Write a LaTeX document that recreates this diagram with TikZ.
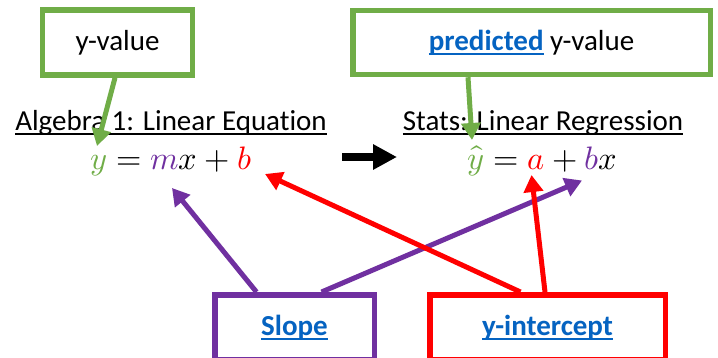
\documentclass[tikz,border=0pt]{standalone}
\usepackage{fontspec}
\setmainfont{Carlito}[Ligatures=NoCommon]
\usepackage{unicode-math}
\setmathfont{Latin Modern Math}[Scale=1.12]
\usetikzlibrary{arrows.meta,calc}
\definecolor{OffGreen}{RGB}{112,173,71}
\definecolor{OffPurple}{RGB}{112,48,160}
\definecolor{OffRed}{RGB}{255,0,0}
\definecolor{LinkBlue}{RGB}{5,99,193}
\newcommand{\undl}[1]{\leavevmode\setbox0\hbox{#1}\rlap{\rule[-4.5pt]{\wd0}{2pt}}\box0}
\newcommand{\hlink}[1]{\textcolor{LinkBlue}{\bfseries\undl{#1}}}
\tikzset{
  bigtext/.style={font=\fontsize{29}{35}\selectfont},
  labelbox/.style={rectangle, draw, fill=white, line width=5.5pt, inner sep=0pt, bigtext},
  gbox/.style={labelbox, draw=OffGreen},
  pbox/.style={labelbox, draw=OffPurple},
  rbox/.style={labelbox, draw=OffRed},
  title/.style={inner sep=0pt, bigtext},
  eqn/.style={inner sep=0pt, bigtext},
  pointer/.style={-{Triangle[length=17pt,width=19pt]}, line width=5pt},
  gpoint/.style={pointer, OffGreen},
  ppoint/.style={pointer, OffPurple},
  rpoint/.style={pointer, OffRed},
  flow/.style={-{Triangle[length=24pt,width=24pt]}, line width=8pt, black},
}
\begin{document}
\begin{tikzpicture}[x=1pt, y=-1pt]
\useasboundingbox (0,0) rectangle (718,358);
\clip (0,0) rectangle (718,358);
% labels on top
\node[gbox, minimum width=150pt, minimum height=65pt] (yval) at (117.5,42.5) {y-value};
\node[gbox, minimum width=357.5pt, minimum height=64pt] (pred) at (531.5,42.5) {\hlink{predicted} y-value};
% headings and equations
\node[title, anchor=base] (alg) at (171,131) {\undl{Algebra 1: Linear Equation}};
\node[title, anchor=base] (stat) at (543,131) {\undl{Stats: Linear Regression}};
\node[eqn, anchor=base] (lefteq) at (171,170)
  {$\textcolor{OffGreen}{y}=\textcolor{OffPurple}{m}x+\textcolor{OffRed}{b}$};
\node[eqn, anchor=base] (righteq) at (542.5,170)
  {$\textcolor{OffGreen}{\hat{y}}=\textcolor{OffRed}{a}+\textcolor{OffPurple}{b}x$};
% labels at the bottom
\node[pbox, minimum width=159.5pt, minimum height=65.25pt] (slope) at (294.5,327.4) {\hlink{Slope}};
\node[rbox, minimum width=235.5pt, minimum height=65.25pt] (icept) at (547.5,327.4) {\hlink{y-intercept}};
% arrow tips
\coordinate (ytip) at (97,146);
\coordinate (yhtip) at (472,140);
\coordinate (mtip) at (172,188);
\coordinate (btip) at (265,174);
\coordinate (atip) at (531.5,175);
\coordinate (bxtip) at (582,180.5);
\coordinate (fromL) at (342,157);
\coordinate (toR) at (397,157);
\draw[flow] (fromL) -- (toR);
\draw[gpoint] ([xshift=-2.5pt]yval.south) -- (ytip);
\draw[gpoint] ([xshift=-63.5pt]pred.south) -- (yhtip);
\draw[ppoint] ([xshift=-38pt]slope.north) -- (mtip);
\draw[ppoint] ([xshift=27pt]slope.north) -- (bxtip);
\draw[rpoint] ([xshift=-27pt]icept.north) -- (btip);
\draw[rpoint] ([xshift=-2.5pt]icept.north) -- (atip);
\end{tikzpicture}
\end{document}
